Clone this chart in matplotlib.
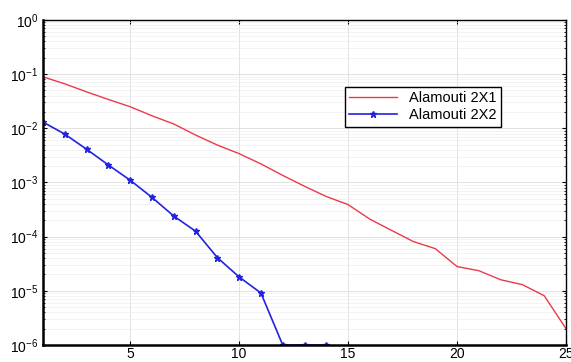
import matplotlib
matplotlib.use("Agg")
import matplotlib.pyplot as plt
from matplotlib.ticker import LogLocator, NullFormatter

plt.rcParams['font.family'] = ['Liberation Sans', 'DejaVu Sans']

snr = list(range(1, 26))
ber_2x1 = [0.089, 0.066, 0.047, 0.034, 0.025, 0.017, 0.012, 0.0075, 0.0049, 0.0034,
           0.0022, 0.00135, 0.00085, 0.00055, 0.00039, 0.00021, 0.00013, 0.000081,
           0.00006, 0.000028, 0.0000235, 0.000016, 0.000013, 0.0000081, 0.000002]
snr_2x2 = list(range(1, 15))
ber_2x2 = [0.013, 0.0078, 0.0041, 0.0021, 0.0011, 0.00053, 0.00024, 0.000126,
           0.000041, 0.000018, 0.0000091, 0.000001, 0.000001, 0.000001]
labels = ['Alamouti 2X1', 'Alamouti 2X2']
xticks = [5, 10, 15, 20, 25]

fig = plt.figure(figsize=(5.71, 3.62), dpi=100)
ax = fig.add_axes([0.0753, 0.047, 0.916, 0.898])

ax.semilogy(snr, ber_2x1, color='#ea3a4a', lw=1.0, label=labels[0])
ax.semilogy(snr_2x2, ber_2x2, color='#2222e0', lw=1.2, marker='*', ms=4.5,
            label=labels[1])

ax.set_xlim(1, 25)
ax.set_ylim(1e-6, 1e0)
ax.set_xticks(xticks)
ax.yaxis.set_major_locator(LogLocator(base=10, numticks=10))
ax.yaxis.set_minor_locator(LogLocator(base=10, subs=range(2, 10), numticks=10))
ax.yaxis.set_minor_formatter(NullFormatter())
ax.grid(True, which='major', color='#dddddd', lw=0.6)
ax.grid(True, which='minor', axis='y', color='#eeeeee', lw=0.5)
ax.tick_params(direction='in', which='both', labelsize=10, top=True, right=True,
               length=3)
ax.tick_params(axis='x', pad=1.5)
ax.tick_params(which='minor', length=1.5)
for s in ax.spines.values():
    s.set_linewidth(1.0)
ax.spines['left'].set_linewidth(1.8)
ax.spines['bottom'].set_linewidth(1.8)

leg = ax.legend(loc='upper left', bbox_to_anchor=(0.577, 0.794), borderaxespad=0,
                fontsize=10.5, fancybox=False, framealpha=1, edgecolor='black',
                borderpad=0.3, handlelength=3.3, labelspacing=0.2)
leg.get_frame().set_linewidth(1.0)

fig.savefig('out.png', dpi=100)
